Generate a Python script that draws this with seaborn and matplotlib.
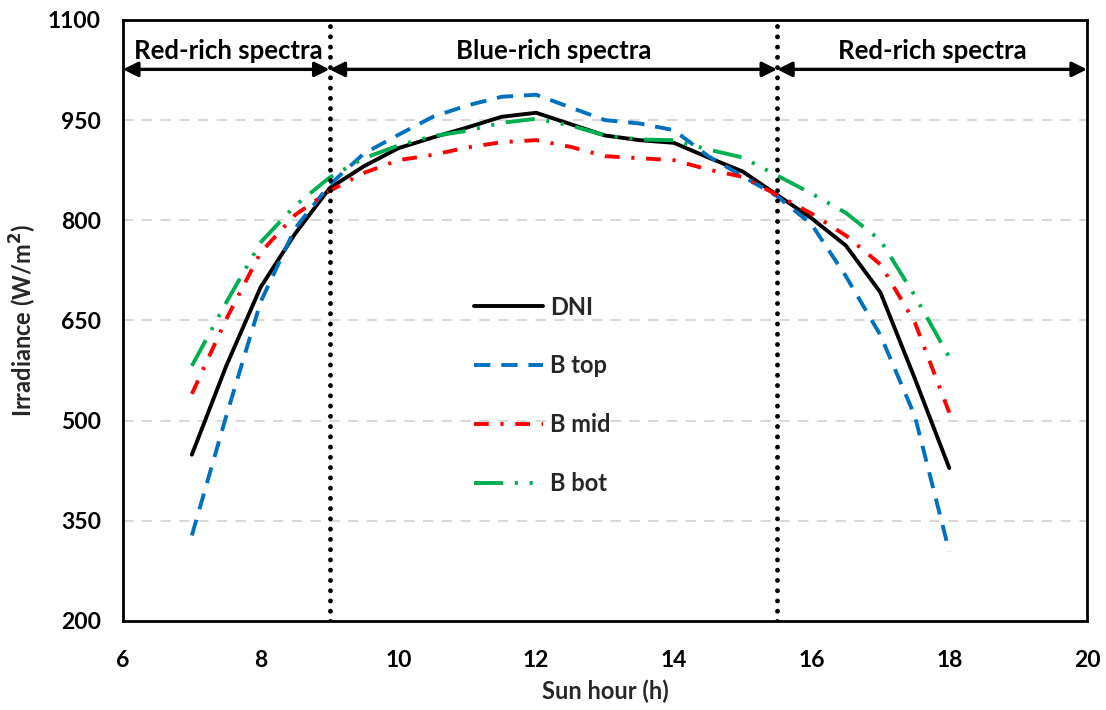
import matplotlib
matplotlib.use("Agg")
import matplotlib.pyplot as plt
import seaborn as sns
import pandas as pd

# ---------------- data ----------------
hours = [7, 7.5, 8, 8.5, 9, 9.5, 10, 10.5, 11, 11.5, 12, 12.5,
         13, 13.5, 14, 14.5, 15, 15.5, 16, 16.5, 17, 17.5, 18]
dni   = [449, 582, 700, 780, 848, 881, 908, 924, 939, 955, 961, 944,
         927, 920, 916, 894, 873, 838, 803, 762, 692, 563, 429]
b_top = [328, 507, 678, 788, 853, 900, 928, 955, 972, 985, 988, 969,
         950, 945, 935, 896, 866, 836, 794, 716, 628, 507, 304]
b_mid = [540, 652, 752, 808, 844, 871, 890, 898, 909, 917, 920, 910,
         896, 893, 890, 876, 865, 838, 810, 777, 734, 647, 512]
b_bot = [582, 677, 767, 822, 864, 893, 912, 926, 934, 946, 952, 942,
         927, 921, 920, 906, 894, 867, 840, 811, 770, 687, 595]

series_names = ["DNI", "B top", "B mid", "B bot"]
region_bounds = [6, 9, 15.5, 20]
region_labels = ["Red-rich spectra", "Blue-rich spectra", "Red-rich spectra"]
x_ticks = [6, 8, 10, 12, 14, 16, 18, 20]
y_ticks = [200, 350, 500, 650, 800, 950, 1100]

# ---------------- style ----------------
sns.set_theme(style="white")
plt.rcParams["font.family"] = ["Lato", "DejaVu Sans"]
plt.rcParams["font.weight"] = "bold"

fig = plt.figure(figsize=(11.06, 7.10), dpi=100)
ax = fig.add_axes([0.1112, 0.1254, 0.8716, 0.8465])

df = pd.DataFrame({"hour": hours, "DNI": dni, "B top": b_top,
                   "B mid": b_mid, "B bot": b_bot})

colors = {"DNI": "#000000", "B top": "#0070C0", "B mid": "#FF0000", "B bot": "#00B050"}
styles = {"DNI": "-",
          "B top": (0, (4.2, 2.8)),
          "B mid": (0, (3.8, 3.0, 0.8, 3.0)),
          "B bot": (0, (7.5, 3.0, 0.8, 3.0, 0.8, 3.0))}

for name in series_names:
    sns.lineplot(data=df, x="hour", y=name, ax=ax, color=colors[name],
                 linestyle=styles[name], lw=2.8, label=name)

# region separators
for xb in region_bounds[1:3]:
    ax.axvline(xb, color="black", linestyle=(0, (0.01, 2.1)), lw=3.5,
               dash_capstyle="round", zorder=5)

# double-headed arrows + labels
arrow_y = 1026
for i, lab in enumerate(region_labels):
    x0, x1 = region_bounds[i], region_bounds[i + 1]
    ax.annotate("", xy=(x1, arrow_y), xytext=(x0, arrow_y),
                arrowprops=dict(arrowstyle="<|-|>", color="black", lw=2.4,
                                mutation_scale=22, shrinkA=0, shrinkB=0),
                annotation_clip=False)
    ax.text((x0 + x1) / 2 if i != 0 else 7.53, 1054, lab, ha="center", va="center",
            fontsize=18.5, fontweight="bold", color="black")

# axes formatting
ax.set_xlim(6, 20)
ax.set_ylim(200, 1100)
ax.set_xticks(x_ticks)
ax.set_yticks(y_ticks)
ax.tick_params(axis="both", direction="in", length=7, width=1.5,
               labelsize=16.5, colors="black")
ax.tick_params(axis="y", pad=16)
ax.tick_params(axis="x", pad=21)
for lbl in ax.get_xticklabels() + ax.get_yticklabels():
    lbl.set_fontweight("bold")

ax.set_xlabel("Sun hour (h)", fontsize=17, fontweight="bold", labelpad=6)
ax.set_ylabel("Irradiance (W/m$^\\mathbf{2}$)", fontsize=17, fontweight="bold", labelpad=6)

for gy in y_ticks[1:-1]:
    ax.axhline(gy, color="#D9D9D9", lw=1.5, linestyle=(0, (5, 4)), zorder=0)

for sp in ax.spines.values():
    sp.set_color("black")
    sp.set_linewidth(2)

leg = ax.legend(loc="upper left", bbox_to_anchor=(0.352, 0.561), frameon=False,
                fontsize=17, handlelength=2.9, handletextpad=0.3,
                labelspacing=1.52, borderpad=0)
for t in leg.get_texts():
    t.set_fontweight("bold")

fig.savefig("out.png", dpi=100)
